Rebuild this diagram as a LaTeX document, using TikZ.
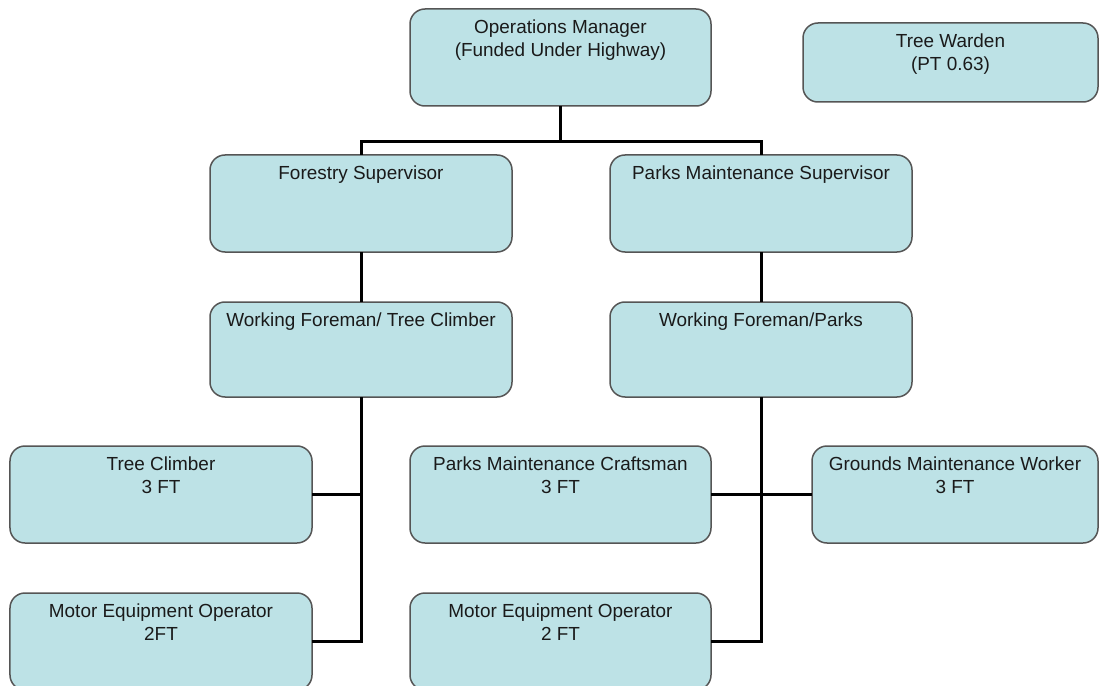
\documentclass[tikz,border=0pt]{standalone}
\usepackage{fontspec}
\setmainfont{Liberation Sans}
\definecolor{boxfill}{HTML}{BDE2E6}
\definecolor{boxline}{HTML}{555555}
\definecolor{txt}{HTML}{1A1A1A}
\begin{document}
\begin{tikzpicture}[x=1bp,y=-1bp,
  box/.style={draw=boxline, line width=1.5bp, fill=boxfill, rounded corners=15bp,
    minimum width=302bp, minimum height=97bp, inner sep=0pt, outer sep=0pt},
  lbl/.style={anchor=north, inner sep=0pt, align=center,
    font=\fontsize{19}{23}\selectfont, text=txt, yshift=-11bp},
  conn/.style={line width=3bp, draw=black}]
\useasboundingbox (0,0) rectangle (1099,686);
\clip (0,0) rectangle (1099,686);
\coordinate (bar) at (0,142);
% boxes
\node[box, minimum width=301bp] (om) at (560.5,57.5) {};
\node[box, minimum width=295bp, minimum height=79bp] (tw) at (950.5,62.5) {};
\node[box] (fs) at (361,203.5) {};
\node[box] (ps) at (761,203.5) {};
\node[box, minimum height=95bp] (wft) at (361,349.5) {};
\node[box, minimum height=95bp] (wfp) at (761,349.5) {};
\node[box] (tc) at (161,494.5) {};
\node[box, minimum width=301bp] (pmc) at (560.5,494.5) {};
\node[box, minimum width=286bp] (gmw) at (955,494.5) {};
\node[box] (meoa) at (161,641.5) {};
\node[box, minimum width=301bp] (meob) at (560.5,641.5) {};
% labels
\node[lbl] (tom) at (om.north) {Operations Manager\\(Funded Under Highway)};
\node[lbl] (ttw) at (tw.north) {Tree Warden\\(PT 0.63)};
\node[lbl] (tfs) at (fs.north) {Forestry Supervisor};
\node[lbl] (tps) at (ps.north) {Parks Maintenance Supervisor};
\node[lbl] (twft) at (wft.north) {Working Foreman/ Tree Climber};
\node[lbl] (twfp) at (wfp.north) {Working Foreman/Parks};
\node[lbl] (ttc) at (tc.north) {Tree Climber\\3 FT};
\node[lbl] (tpmc) at (pmc.north) {Parks Maintenance Craftsman\\3 FT};
\node[lbl] (tgmw) at (gmw.north) {Grounds Maintenance Worker\\3 FT};
\node[lbl] (tmeoa) at (meoa.north) {Motor Equipment Operator\\2FT};
\node[lbl] (tmeob) at (meob.north) {Motor Equipment Operator\\2 FT};
% connectors
\draw[conn] (om.south) -- (om.south |- bar);
\draw[conn] (fs.north) -- (fs.north |- bar) -- (ps.north |- bar) -- (ps.north);
\draw[conn] (fs.south) -- (wft.north);
\draw[conn] (ps.south) -- (wfp.north);
\draw[conn] (wft.south) -- (wft.south |- meoa.east) -- (meoa.east);
\draw[conn] (tc.east) -- (tc.east -| wft.south);
\draw[conn] (wfp.south) -- (wfp.south |- meob.east) -- (meob.east);
\draw[conn] (pmc.east) -- (gmw.west);
\end{tikzpicture}
\end{document}
